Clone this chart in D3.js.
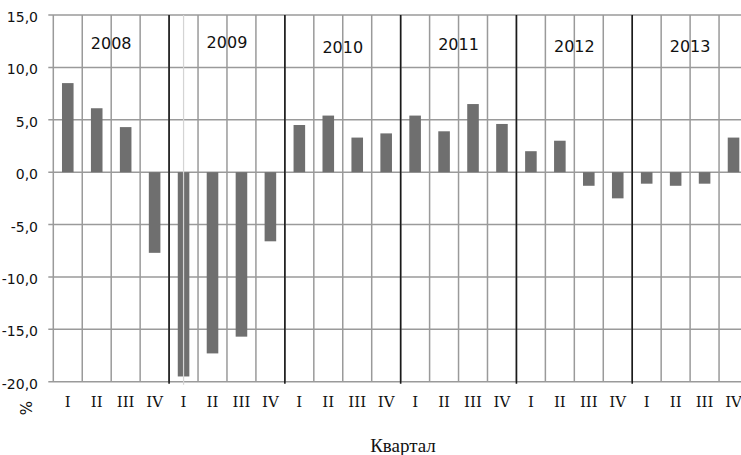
<!DOCTYPE html>
<html>
<head>
<meta charset="utf-8">
<script src="https://cdn.jsdelivr.net/npm/d3@7"></script>
<style>
  body { margin: 0; background: #fff; }
  svg { display: block; }
</style>
</head>
<body>
<svg id="chart" width="741" height="455"></svg>
<script>
const years = ["2008", "2009", "2010", "2011", "2012", "2013"];
const quarters = ["I", "II", "III", "IV"];
// прирост, % по кварталам (2008 I ... 2013 IV)
const values = [
    8.5, 6.1, 4.3, -7.7,
    -19.5, -17.3, -15.7, -6.6,
    4.5, 5.4, 3.3, 3.7,
    5.4, 3.9, 6.5, 4.6,
    2.0, 3.0, -1.3, -2.5,
    -1.1, -1.3, -1.1, 3.3
];
const yTicks = [-20, -15, -10, -5, 0, 5, 10, 15];

const CONSTANTS = {
    LEFT: 53.3,
    RIGHT: 748,
    TOP: 15,
    BOTTOM: 381.7,
    GRID: "#9a9a9a",
    BAR: "#6f6f6f",
};
// небольшой сдвиг подписей годов по вертикали, как на исходнике
const yearLabelY = [43, 42, 47.5, 44, 46, 46];

const rows = [];
years.forEach((yr, i) => {
    quarters.forEach((q, j) => {
        rows.push({ key: yr + "-" + q, year: yr, q: q, value: values[i * 4 + j] });
    });
});

const svg = d3.select("#chart");

const x = d3.scaleBand()
    .domain(rows.map(d => d.key))
    .range([CONSTANTS.LEFT, CONSTANTS.RIGHT])
    .padding(0);

const y = d3.scaleLinear()
    .domain([-20, 15])
    .range([CONSTANTS.BOTTOM, CONSTANTS.TOP]);

// horizontal grid + left ticks
svg.append("g")
    .selectAll("line")
    .data(yTicks)
    .join("line")
    .attr("x1", CONSTANTS.LEFT - 5)
    .attr("x2", CONSTANTS.RIGHT)
    .attr("y1", d => y(d))
    .attr("y2", d => y(d))
    .attr("stroke", CONSTANTS.GRID)
    .attr("stroke-width", 1.5);

// vertical grid
svg.append("g")
    .selectAll("line")
    .data(rows)
    .join("line")
    .attr("x1", d => x(d.key))
    .attr("x2", d => x(d.key))
    .attr("y1", CONSTANTS.TOP)
    .attr("y2", CONSTANTS.BOTTOM)
    .attr("stroke", CONSTANTS.GRID)
    .attr("stroke-width", 1.5);

// bars
const barW = x.bandwidth() * 0.4;
svg.append("g")
    .selectAll("rect")
    .data(rows)
    .join("rect")
    .attr("x", d => x(d.key) + (x.bandwidth() - barW) / 2)
    .attr("width", barW)
    .attr("y", d => y(Math.max(0, d.value)))
    .attr("height", d => Math.abs(y(d.value) - y(0)))
    .attr("fill", CONSTANTS.BAR);

// light stray line through 2009 I
svg.append("line")
    .attr("x1", x("2009-I") + x.bandwidth() / 2)
    .attr("x2", x("2009-I") + x.bandwidth() / 2)
    .attr("y1", CONSTANTS.TOP)
    .attr("y2", CONSTANTS.BOTTOM + 3)
    .attr("stroke", "#d4d4d4")
    .attr("stroke-width", 1.2);

// year separators
svg.append("g")
    .selectAll("line")
    .data(years.slice(1))
    .join("line")
    .attr("x1", d => x(d + "-I"))
    .attr("x2", d => x(d + "-I"))
    .attr("y1", CONSTANTS.TOP)
    .attr("y2", CONSTANTS.BOTTOM + 2)
    .attr("stroke", "#1a1a1a")
    .attr("stroke-width", 1.6);

// year labels
svg.append("g")
    .attr("font-family", "DejaVu Sans")
    .attr("font-size", 16)
    .attr("fill", "#111")
    .attr("text-anchor", "middle")
    .selectAll("text")
    .data(years)
    .join("text")
    .attr("x", d => (x(d + "-I") + x(d + "-IV") + x.bandwidth()) / 2)
    .attr("y", (d, i) => yearLabelY[i])
    .attr("dy", "0.36em")
    .text(d => d);

// y tick labels
svg.append("g")
    .attr("font-family", "DejaVu Sans")
    .attr("font-size", 14)
    .attr("fill", "#111")
    .attr("text-anchor", "end")
    .selectAll("text")
    .data(yTicks)
    .join("text")
    .attr("x", 38)
    .attr("y", d => y(d) + 2)
    .attr("dy", "0.36em")
    .text(d => d3.format(".1f")(d).replace(".", ",").replace("−", "-"));

// quarter labels
svg.append("g")
    .attr("fill", "#111")
    .attr("text-anchor", "middle")
    .selectAll("text")
    .data(rows)
    .join("text")
    .style("font-family", "'DejaVu Serif'")
    .style("font-size", "15px")
    .attr("x", d => x(d.key) + x.bandwidth() / 2)
    .attr("y", 402)
    .attr("dy", "0.35em")
    .text(d => d.q);

// axis titles
svg.append("text")
    .attr("transform", "translate(27,408) rotate(-90)")
    .attr("font-family", "DejaVu Sans")
    .attr("font-size", 15)
    .attr("fill", "#111")
    .attr("text-anchor", "middle")
    .attr("dy", "0.36em")
    .text("%");

svg.append("text")
    .style("font-family", "'Liberation Serif'")
    .style("font-size", "19px")
    .attr("x", 403)
    .attr("y", 445)
    .attr("fill", "#111")
    .attr("text-anchor", "middle")
    .attr("dy", "0.35em")
    .text("Квартал");
</script>
</body>
</html>
